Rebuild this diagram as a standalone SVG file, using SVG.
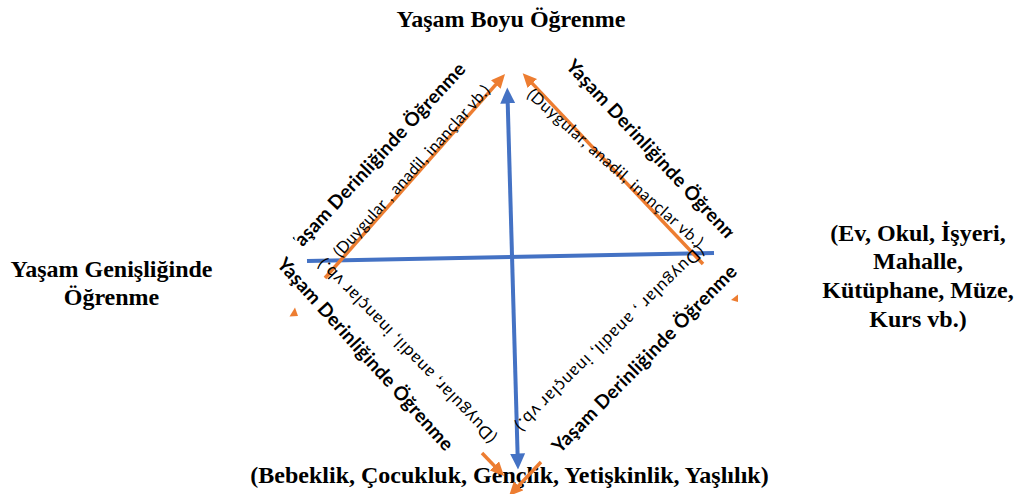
<svg xmlns="http://www.w3.org/2000/svg" width="1021" height="494" viewBox="0 0 1021 494">
<style>
.serif{font-family:"Liberation Serif","Times New Roman",serif;font-weight:bold;font-size:24px;fill:#000}
.bold{font-family:Lato,"Open Sans",sans-serif;font-weight:bold;font-size:19px;fill:#000}
.small{font-family:Lato,"Open Sans",sans-serif;font-size:16px;fill:#000}
.smallr{font-family:Lato,"Open Sans",sans-serif;font-size:17px;fill:#000}
.blue{stroke:#4472C4;stroke-width:4;fill:none}
.orange{stroke:#ED7D31;stroke-width:3.5;fill:none}
</style>
<defs>
<marker id="bArrow" markerUnits="userSpaceOnUse" markerWidth="16" markerHeight="15" refX="8" refY="7.5" orient="auto-start-reverse">
<path d="M0,0 L16,7.5 L0,15 z" fill="#4472C4"/>
</marker>
<marker id="oArrow" markerUnits="userSpaceOnUse" markerWidth="14" markerHeight="13" refX="7" refY="6.5" orient="auto">
<path d="M0,0 L14,6.5 L0,13 z" fill="#ED7D31"/>
</marker>
<clipPath id="clipTL" clipPathUnits="userSpaceOnUse"><rect x="10.5" y="-30" width="300" height="50"/></clipPath>
<clipPath id="clipTR" clipPathUnits="userSpaceOnUse"><rect x="-10" y="-30" width="246" height="50"/></clipPath>
</defs>

<g id="label-bottom">
<text class="serif" x="509.5" y="483" text-anchor="middle">(Bebeklik, Çocukluk, Gençlik, Yetişkinlik, Yaşlılık)</text>
</g>

<g id="connectors">
<line class="blue" x1="507.5" y1="95.5" x2="517.8" y2="461.5" marker-start="url(#bArrow)" marker-end="url(#bArrow)"/>
<line class="blue" x1="307" y1="261" x2="714" y2="253"/>
<line class="orange" x1="325" y1="278" x2="500.4" y2="79.3" marker-end="url(#oArrow)"/>
<line class="orange" x1="703" y1="264" x2="527.5" y2="78.4" marker-end="url(#oArrow)"/>
<line class="orange" x1="482" y1="453" x2="499.2" y2="470.9" marker-end="url(#oArrow)"/>
<line class="orange" x1="541" y1="462" x2="513.8" y2="490.9" marker-end="url(#oArrow)"/>
<polygon points="289.5,316.5 298,316 295,307.5" fill="#ED7D31"/>
<polygon points="731,300 738,294.5 738,302" fill="#ED7D31"/>
</g>

<g id="label-top">
<text class="serif" x="511" y="27" text-anchor="middle">Yaşam Boyu Öğrenme</text>
</g>
<g id="label-left">
<text class="serif" x="111.5" y="277" text-anchor="middle">Yaşam Genişliğinde</text>
<text class="serif" x="111.5" y="305" text-anchor="middle">Öğrenme</text>
</g>
<g id="label-right">
<text class="serif" x="918" y="241" text-anchor="middle">(Ev, Okul, İşyeri,</text>
<text class="serif" x="918" y="269" text-anchor="middle">Mahalle,</text>
<text class="serif" x="918" y="298" text-anchor="middle">Kütüphane, Müze,</text>
<text class="serif" x="918" y="327" text-anchor="middle">Kurs vb.)</text>
</g>

<g id="side-top-left">
<text class="bold" transform="translate(295.5,255) rotate(-47.2)" textLength="252" lengthAdjust="spacing" clip-path="url(#clipTL)">Yaşam Derinliğinde Öğrenme</text>
<text class="small" transform="translate(340.4,258.3) rotate(-48)" textLength="225" lengthAdjust="spacing">(Duygular , anadil, inançlar vb.)</text>
</g>
<g id="side-top-right">
<text class="bold" transform="translate(565,67) rotate(46.9)" textLength="252" lengthAdjust="spacing" clip-path="url(#clipTR)">Yaşam Derinliğinde Öğrenme</text>
<text class="small" transform="translate(526,96) rotate(41.6)" textLength="229" lengthAdjust="spacing">(Duygular, anadil, inançlar vb.)</text>
</g>
<g id="side-bottom-left">
<text class="bold" transform="translate(276,265) rotate(47.9)" textLength="252" lengthAdjust="spacing">Yaşam Derinliğinde Öğrenme</text>
<text class="smallr" transform="translate(497.6,436.5) rotate(-134)" textLength="249" lengthAdjust="spacing">(Duygular, anadil, inançlar vb.)</text>
</g>
<g id="side-bottom-right">
<text class="bold" transform="translate(560,454) rotate(-45.5)" textLength="254" lengthAdjust="spacing">Yaşam Derinliğinde Öğrenme</text>
<text class="smallr" transform="translate(697.5,244.4) rotate(135.6)" textLength="257" lengthAdjust="spacing">(Duygular , anadil, inançlar vb.)</text>
</g>
</svg>
